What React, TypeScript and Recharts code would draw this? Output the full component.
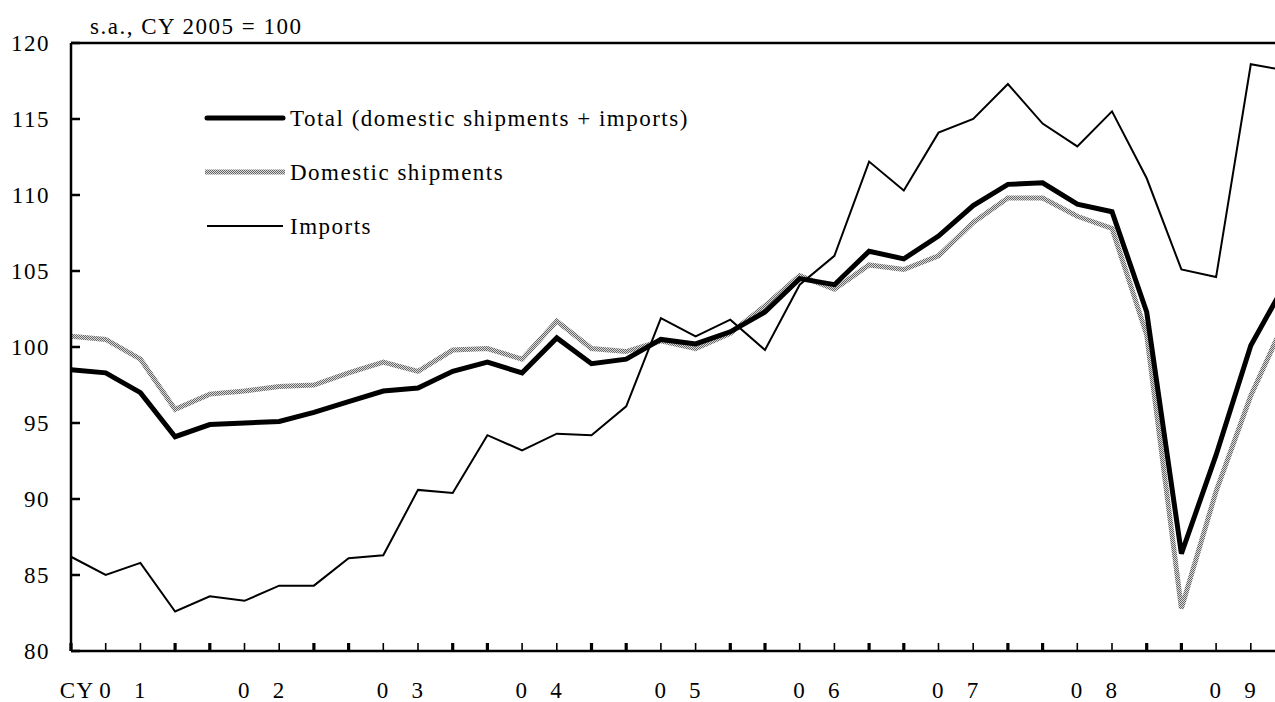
import { LineChart, Line, XAxis, YAxis, ReferenceLine } from 'recharts'

const quarters = [
  '2001Q1', '2001Q2', '2001Q3', '2001Q4',
  '2002Q1', '2002Q2', '2002Q3', '2002Q4',
  '2003Q1', '2003Q2', '2003Q3', '2003Q4',
  '2004Q1', '2004Q2', '2004Q3', '2004Q4',
  '2005Q1', '2005Q2', '2005Q3', '2005Q4',
  '2006Q1', '2006Q2', '2006Q3', '2006Q4',
  '2007Q1', '2007Q2', '2007Q3', '2007Q4',
  '2008Q1', '2008Q2', '2008Q3', '2008Q4',
  '2009Q1', '2009Q2', '2009Q3', '2009Q4',
]

const total = [
  98.5, 98.3, 97.0, 94.1, 94.9, 95.0, 95.1, 95.7, 96.4, 97.1, 97.3, 98.4,
  99.0, 98.3, 100.6, 98.9, 99.2, 100.5, 100.2, 101.0, 102.3, 104.5, 104.1, 106.3,
  105.8, 107.3, 109.3, 110.7, 110.8, 109.4, 108.9, 102.3, 86.4, 92.9, 100.1, 104.2,
]

const domestic = [
  100.7, 100.5, 99.2, 95.9, 96.9, 97.1, 97.4, 97.5, 98.3, 99.0, 98.4, 99.8,
  99.9, 99.2, 101.7, 99.9, 99.7, 100.4, 99.9, 100.9, 102.7, 104.7, 103.8, 105.4,
  105.1, 106.0, 108.2, 109.8, 109.8, 108.6, 107.8, 100.8, 82.8, 90.5, 96.8, 101.8,
]

const imports = [
  86.2, 85.0, 85.8, 82.6, 83.6, 83.3, 84.3, 84.3, 86.1, 86.3, 90.6, 90.4,
  94.2, 93.2, 94.3, 94.2, 96.1, 101.9, 100.7, 101.8, 99.8, 104.1, 106.0, 112.2,
  110.3, 114.1, 115.0, 117.3, 114.7, 113.2, 115.5, 111.1, 105.1, 104.6, 118.6, 118.2,
]

const yearLabels = ['01', '02', '03', '04', '05', '06', '07', '08', '09']
const yTicks = [80, 85, 90, 95, 100, 105, 110, 115, 120]

const data = quarters.map((q, i) => ({
  i,
  q,
  total: total[i],
  domestic: domestic[i],
  imports: imports[i],
}))

const FONT = '"Liberation Serif", "Times New Roman", serif'
const textStyle = { fontFamily: FONT, fontSize: 23, letterSpacing: 1.5, fill: '#000' }

function QuarterTick({ x, y, payload }: any) {
  const k = payload.value as number
  const q = k % 4
  const thick = q === 0 || q === 3
  const year = yearLabels[Math.floor(k / 4)]
  return (
    <g>
      <line x1={x} x2={x} y1={y - 8} y2={y} stroke="#000" strokeWidth={thick ? 3.2 : 1.6} />
      {k === 1 && (
        <text x={x - 11} y={y + 47} textAnchor="end" style={textStyle}>CY</text>
      )}
      {q === 1 && (
        <text x={x} y={y + 47} textAnchor="middle" style={textStyle}>{year[0]}</text>
      )}
      {q === 2 && (
        <text x={x} y={y + 47} textAnchor="middle" style={textStyle}>{year[1]}</text>
      )}
    </g>
  )
}

function ValueTick({ x, y, payload }: any) {
  return (
    <g>
      <line x1={x + 21} x2={x + 30} y1={y} y2={y} stroke="#000" strokeWidth={2.5} />
      <text x={x} y={y} dy="0.35em" textAnchor="end" style={textStyle}>{payload.value}</text>
    </g>
  )
}

export default function App() {
  return (
    <div style={{ position: 'absolute', left: 0, top: 0, width: 1275, height: 702, overflow: 'hidden', background: '#fff' }}>
      <LineChart width={1300} height={702} data={data} margin={{ top: 43, right: 14.5, left: 0, bottom: 0 }}>
        <defs>
          <pattern id="hatch" patternUnits="userSpaceOnUse" width="2" height="2">
            <rect x="0" y="0" width="2" height="2" fill="#dadada" />
            <rect x="0" y="0" width="1" height="1" fill="#666" />
            <rect x="1" y="1" width="1" height="1" fill="#666" />
          </pattern>
        </defs>
        <XAxis
          dataKey="i"
          type="number"
          domain={[0, 35]}
          ticks={data.map((d) => d.i)}
          interval={0}
          height={51}
          tickSize={0}
          tickMargin={0}
          tickLine={false}
          axisLine={{ stroke: '#000', strokeWidth: 2.5 }}
          tick={<QuarterTick />}
        />
        <YAxis
          domain={[80, 120]}
          ticks={yTicks}
          width={71}
          tickSize={0}
          tickMargin={21}
          tickLine={false}
          axisLine={{ stroke: '#000', strokeWidth: 2.5 }}
          tick={<ValueTick />}
        />
        <ReferenceLine y={120} stroke="#000" strokeWidth={2.5} />
        <Line type="linear" dataKey="domestic" stroke="url(#hatch)" strokeWidth={5} dot={false} isAnimationActive={false} />
        <Line type="linear" dataKey="total" stroke="#000" strokeWidth={5} dot={false} isAnimationActive={false} />
        <Line type="linear" dataKey="imports" stroke="#000" strokeWidth={2} dot={false} isAnimationActive={false} />
      </LineChart>
      <svg width={1275} height={702} style={{ position: 'absolute', left: 0, top: 0, pointerEvents: 'none' }}>
        <defs>
          <pattern id="hatchLegend" patternUnits="userSpaceOnUse" width="2" height="2">
            <rect x="0" y="0" width="2" height="2" fill="#dadada" />
            <rect x="0" y="0" width="1" height="1" fill="#666" />
            <rect x="1" y="1" width="1" height="1" fill="#666" />
          </pattern>
        </defs>
        <text x={90} y={34} style={textStyle}>s.a., CY 2005 = 100</text>
        <line x1={207} x2={283} y1={118} y2={118} stroke="#000" strokeWidth={5} strokeLinecap="round" />
        <text x={290} y={118} dy="0.35em" style={textStyle}>Total (domestic shipments + imports)</text>
        <line x1={205} x2={285} y1={172} y2={172} stroke="url(#hatchLegend)" strokeWidth={5} />
        <text x={290} y={172} dy="0.35em" style={textStyle}>Domestic shipments</text>
        <line x1={207} x2={283} y1={226} y2={226} stroke="#000" strokeWidth={2} />
        <text x={290} y={226} dy="0.35em" style={textStyle}>Imports</text>
      </svg>
    </div>
  )
}
